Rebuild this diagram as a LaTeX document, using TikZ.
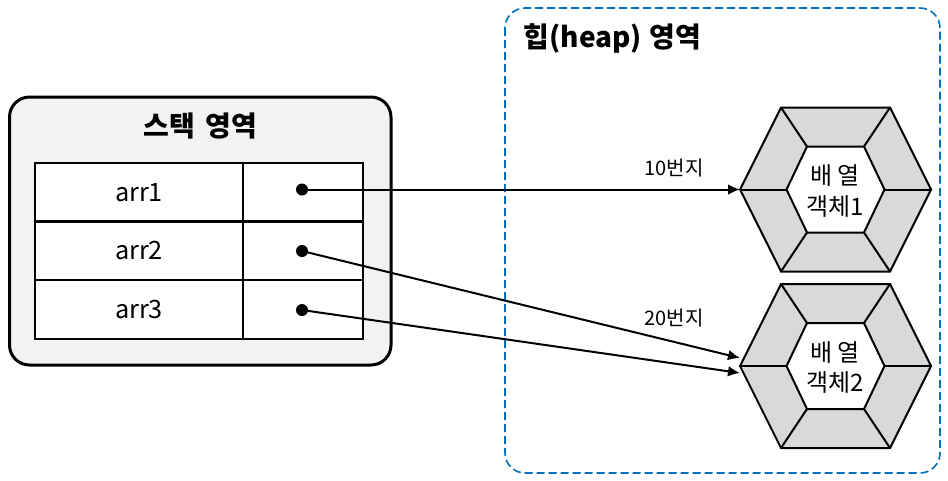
\documentclass[tikz,border=0pt]{standalone}
\usepackage{fontspec}
\setmainfont{Noto Sans CJK KR}
\usetikzlibrary{arrows.meta}
\definecolor{heapblue}{HTML}{0070C0}
\tikzset{
    cellbox/.style={draw, fill=white, line width=1.5pt, minimum height=43.9pt, outer sep=0pt, inner sep=0pt, font=\fontsize{19}{22}\selectfont},
    refdot/.style={circle, fill=black, minimum size=9pt, inner sep=0pt, outer sep=0pt},
    refline/.style={line width=1.5pt, -{Latex[length=9pt,width=8pt]}},
    hexline/.style={line width=1.5pt, line join=miter},
    hexlabel/.style={align=center, font=\fontsize{18}{23}\selectfont},
    addrlabel/.style={font=\fontsize{15}{18}\selectfont},
    titlelabel/.style={font=\fontsize{21}{26}\selectfont\bfseries},
}
\begin{document}
\begin{tikzpicture}[x=0.75pt, y=-0.75pt]
    \useasboundingbox (0,0) rectangle (948,480);

    % ---- heap area ----
    \draw[heapblue, line width=1.2pt, dash pattern=on 6pt off 3pt, rounded corners=15pt] (505,8) rectangle (940,473);
    \node[titlelabel, anchor=west] (heaptitle) at (519,38) {힙(heap)\hspace{1pt} 영역};

    % ---- stack area ----
    \draw[line width=2.25pt, fill=black!5, rounded corners=15pt] (9.5,97) rectangle (391,365);
    \node[titlelabel] (stacktitle) at (200.5,126) {스택\hspace{3pt} 영역};

    % ---- stack table ----
    \node[cellbox, minimum width=156pt] (name1) at (139,192.2) {arr1};
    \node[cellbox, minimum width=156pt] (name2) at (139,250.8) {arr2};
    \node[cellbox, minimum width=156pt] (name3) at (139,309.3) {arr3};
    \node[cellbox, minimum width=90pt] (val1) at (303,192.2) {};
    \node[cellbox, minimum width=90pt] (val2) at (303,250.8) {};
    \node[cellbox, minimum width=90pt] (val3) at (303,309.3) {};
    \node[refdot] (dot1) at (302,189.5) {};
    \node[refdot] (dot2) at (302,251) {};
    \node[refdot] (dot3) at (302,310) {};

    % ---- array objects ----
    \foreach \hex/\cy in {1/189.5, 2/366} {
        \begin{scope}[shift={(835.5,\cy)}]
            \draw[hexline, fill=black!15]
                (-95.5,0) -- (-54.5,-82) -- (54.5,-82) -- (95.5,0) -- (54.5,82) -- (-54.5,82) -- cycle;
            \draw[hexline] (-95.5,0) -- (-49,0);
            \draw[hexline] (95.5,0) -- (49,0);
            \foreach \sx in {-1,1}
                \foreach \sy in {-1,1}
                    \draw[hexline] (\sx*54.5,\sy*82) -- (\sx*28.5,\sy*43);
            \draw[hexline, fill=white]
                (-49,0) -- (-28.5,-43) -- (28.5,-43) -- (49,0) -- (28.5,43) -- (-28.5,43) -- cycle;
            \coordinate (tip\hex) at (-95.5,0);
        \end{scope}
    }
    \node[hexlabel] (objtext1) at (835,191) {배 열\\객체1};
    \node[hexlabel] (objtext2) at (835,367.5) {배 열\\객체2};

    % ---- references ----
    \coordinate (tip2up) at (740,358);
    \coordinate (tip2low) at (740,373);
    \draw[refline] (dot1.center) -- (tip1);
    \draw[refline] (dot2.center) -- (tip2up);
    \draw[refline] (dot3.center) -- (tip2low);
    \node[addrlabel] (addr1) at (674,168) {10번지};
    \node[addrlabel] (addr2) at (674,318) {20번지};
\end{tikzpicture}
\end{document}
